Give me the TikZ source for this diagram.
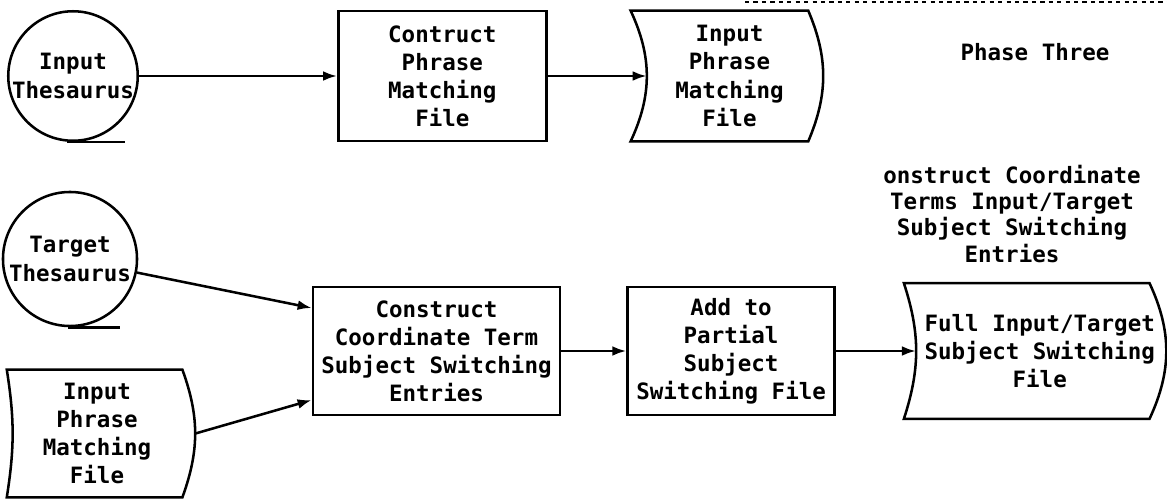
\documentclass[tikz,border=0pt]{standalone}
\usepackage{fontspec}
\setmonofont{DejaVu Sans Mono}
\usetikzlibrary{positioning}
\usetikzlibrary{arrows.meta}
\tikzset{proc/.style = {draw, line width=1.8pt, align=center, text centered, inner sep=0pt, minimum height=3.2cm}}
\tikzset{disk/.style = {draw, circle, line width=1.8pt, align=center, inner sep=0pt, minimum size=3.2cm}}
\tikzset{store/.style = {align=center, text centered, inner sep=0pt}}
\tikzset{arr/.style = {line width=1.8pt, -{Latex[length=10pt, width=7pt]}}}
\tikzset{edge/.style = {line width=1.8pt}}
% outline of a stored file: concave left side, convex right side (#4 moves it off the text)
\newcommand{\storeline}[4]{\draw[edge] ([xshift=#4]#1.north west) to[bend left=#2] ([xshift=#4]#1.south west) -- ([xshift=#4]#1.south east) to[bend right=#3] ([xshift=#4]#1.north east) -- cycle;}

\begin{document}
\begin{tikzpicture}[x=0.025cm, y=-0.025cm,
  font=\ttfamily\bfseries\fontsize{16}{20}\selectfont
]
\useasboundingbox (0,0) rectangle (1167,501);

\node[disk] (th1) at (73,76) {Input\\Thesaurus};
\node[proc, minimum width=5.2cm, minimum height=3.25cm, right=4.95cm of th1] (c1) {Contruct\\Phrase\\Matching\\File};
\node[store, minimum width=4.425cm, minimum height=3.25cm, right=2.325cm of c1] (f1) {Input\\Phrase\\Matching\\File};

\node[disk, minimum size=3.35cm] (th2) at (70,259) {Target\\Thesaurus};
\node[store, minimum width=4.375cm, minimum height=3.175cm] (f3) at (97,433.5) {Input\\Phrase\\Matching\\File};
\node[proc, minimum width=6.175cm] (c2) at (436.5,351) {Construct\\Coordinate Term\\Subject Switching\\Entries};
\node[proc, minimum width=5.175cm, right=1.625cm of c2] (c3) {Add to\\Partial\\Subject\\Switching File};
\node[store, minimum width=6.125cm, minimum height=3.375cm, right=2.025cm of c3] (f2) {Full Input/Target\\Subject Switching\\File};

\node (ph) at (1035,52) {Phase Three};
\node[align=center, font=\ttfamily\bfseries\fontsize{16}{18.5}\selectfont] (note) at (1012,214) {onstruct Coordinate\\Terms Input/Target\\Subject Switching\\Entries};

\storeline{f1}{25}{23}{-0.25cm}
\storeline{f2}{18}{25}{-0.325cm}
\storeline{f3}{9}{20}{-0.06cm}
\draw[edge] ([xshift=-0.15cm]th1.south) -- ++(1.45cm,0);
\draw[edge] ([xshift=-0.05cm]th2.south) -- ++(1.3cm,0);
\draw[dashed, line width=1pt] (745,2) -- (1167,2);

\draw[arr] (th1) -- (c1);
\draw[arr] (c1) -- ([xshift=0.15cm]f1.west);
\draw[arr] (th2) -- ([yshift=1.075cm]c2.west);
\draw[arr] ([xshift=0.265cm]f3.east) -- ([yshift=-1.225cm]c2.west);
\draw[arr] (c2) -- (c3);
\draw[arr] (c3) -- ([xshift=-0.025cm]f2.west);

\end{tikzpicture}
\end{document}
